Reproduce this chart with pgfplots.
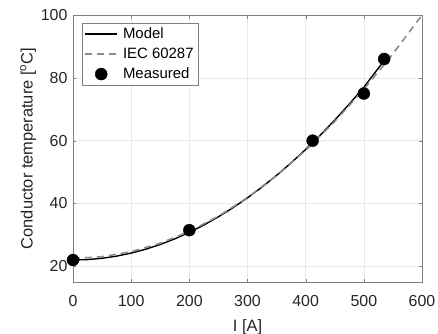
\documentclass[border=0pt]{standalone}
\usepackage{fontspec}
\setmainfont{Liberation Sans}
\usepackage{pgfplots}
\pgfplotsset{compat=1.18}
\definecolor{axgray}{gray}{0.15}
\definecolor{boxgray}{gray}{0.5}
\definecolor{iecgray}{gray}{0.55}
\pgfplotsset{
  markleg/.style={legend image code/.code={\draw[##1] plot coordinates {(16bp,0bp)};}},
}
\begin{document}
\begin{tikzpicture}
\begin{axis}[
  name=main,
  scale only axis,
  width=349bp, height=267bp,
  xmin=0, xmax=600, ymin=15, ymax=100,
  xtick={0,100,...,600}, ytick={20,40,...,100},
  grid=major,
  major grid style={gray!18, line width=0.4pt},
  axis line style={boxgray, line width=0.5pt},
  tick style={boxgray},
  tick align=inside, tick pos=both,
  major tick length=3.5bp,
  ticklabel style={font=\fontsize{16}{18}\selectfont, text=axgray},
  xticklabel style={yshift=-10bp},
  yticklabel style={xshift=-2bp},
  /pgf/number format/assume math mode=true,
  xlabel={I [A]}, ylabel={Conductor temperature [\textsuperscript{o}C]},
  label style={font=\fontsize{16.5}{18}\selectfont, text=axgray},
  xlabel style={yshift=-6bp},
  ylabel style={yshift=-2bp},
  legend cell align=left,
  legend style={font=\fontsize{15}{16}\selectfont, draw=boxgray, fill=white,
    at={(0.025,0.97)}, anchor=north west, inner sep=2.5bp, row sep=4bp,
    /tikz/every odd column/.append style={column sep=3bp}},
  legend image code/.code={\draw[#1] (0bp,0bp) -- (32bp,0bp);},
]
% model prediction
\addplot[black, line width=1.4pt] coordinates {
  (0,22.0) (25,22.14) (50,22.55) (75,23.24) (100,24.2) (125,25.44)
  (150,26.95) (175,28.74) (200,30.8) (225,33.14) (250,35.75) (275,38.64)
  (300,41.8) (325,45.24) (350,48.95) (375,52.94) (400,57.2) (425,61.74)
  (450,66.55) (475,71.64) (500,77.0) (535,85.5)
};
\addlegendentry{Model}
% IEC 60287 rating calculation
\addplot[iecgray, line width=1.6pt, dash pattern=on 7bp off 5bp] coordinates {
  (0,22.5) (50,23.04) (100,24.65) (150,27.34) (200,31.11) (250,35.96)
  (300,41.88) (350,48.87) (400,56.95) (450,66.1) (500,76.33) (550,87.63)
  (600,100)
};
\addlegendentry{IEC 60287}
% measurements
\addplot[only marks, mark=*, mark size=6bp, black, markleg] coordinates {
  (0,22) (200,31.5) (412,60) (500,75) (535,86)
};
\addlegendentry{Measured}
\end{axis}
\pgfresetboundingbox
\path ([shift={(-73bp,-52bp)}]main.south west) rectangle ([shift={(16bp,15bp)}]main.north east);
\end{tikzpicture}
\end{document}
